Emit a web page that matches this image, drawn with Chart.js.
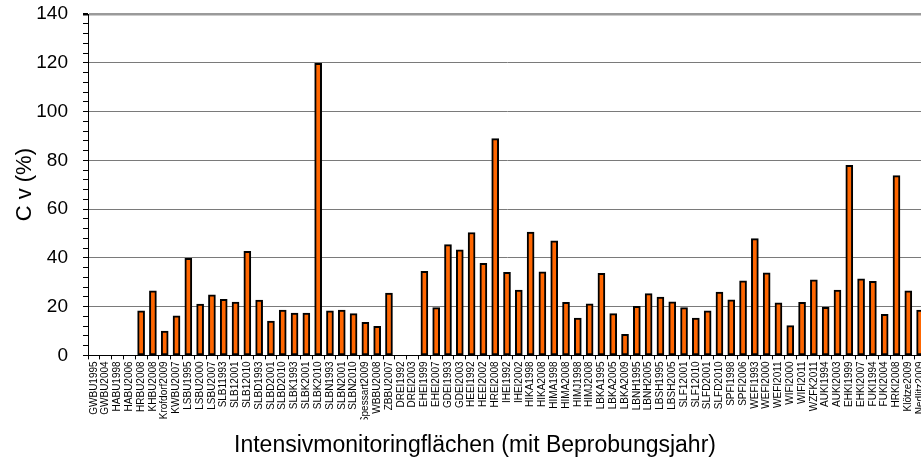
<!DOCTYPE html>
<html>
<head>
<meta charset="utf-8">
<script src="https://cdn.jsdelivr.net/npm/chart.js@4.4.1/dist/chart.umd.min.js"></script>
<style>
  html, body { margin: 0; padding: 0; background: #fff; overflow: hidden; }
  #wrap { width: 950px; height: 469px; }
</style>
</head>
<body>
<div id="wrap"><canvas id="cvChart"></canvas></div>
<script>
  const plots = [
    'GWBU1995','GWBU2004','HABU1998','HABU2006','HRBU2008','KHBU2008','Krofdorf2009','KWBU2007',
    'LSBU1995','LSBU2000','LSBU2007','SLB11993','SLB12001','SLB12010','SLBD1993','SLBD2001',
    'SLBD2010','SLBK1993','SLBK2001','SLBK2010','SLBN1993','SLBN2001','SLBN2010','Spessart2009',
    'WBBU2008','ZBBU2007','DREI1992','DREI2003','EHEI1999','EHEI2007','GDEI1993','GDEI2003',
    'HEEI1992','HEEI2002','HREI2008','IHEI1992','IHEI2002','HIKA1998','HIKA2008','HIMA1998',
    'HIMA2008','HIMJ1998','HIMJ2008','LBKA1995','LBKA2005','LBKA2009','LBNH1995','LBNH2005',
    'LBSH1995','LBSH2005','SLF12001','SLF12010','SLFD2001','SLFD2010','SPFI1998','SPFI2006',
    'WEFI1993','WEFI2000','WEFI2011','WIFI2000','WIFI2011','WZFK2011','AUKI1994','AUKI2003',
    'EHKI1999','EHKI2007','FUKI1994','FUKI2004','HRKI2008','Klötze2009','Nedlitz2009'
  ];

  // coefficient of variation per plot, % (null = not sampled)
  const cv = [
    null, null, null, null, 18.3, 26.5, 10.0, 16.2,
    39.8, 21.0, 24.8, 23.0, 21.9, 42.7, 22.7, 14.1,
    18.6, 17.4, 17.4, 119.8, 18.3, 18.6, 17.1, 13.6,
    11.9, 25.6, null, null, 34.5, 19.6, 45.4, 43.3,
    50.4, 37.8, 88.9, 34.1, 26.8, 50.6, 34.3, 47.0,
    21.8, 15.3, 21.1, 33.7, 17.1, 8.6, 20.1, 25.3,
    23.9, 22.0, 19.6, 15.3, 18.3, 26.0, 22.8, 30.6,
    47.9, 33.9, 21.6, 12.2, 21.8, 31.0, 19.7, 26.8,
    77.9, 31.4, 30.4, 16.8, 73.7, 26.5, 18.6
  ];

  const yMin = 0, yMax = 140, yMajor = 20, yMinor = 4;

  const font = 'Liberation Sans, Arial, sans-serif';

  new Chart(document.getElementById('cvChart'), {
    type: 'bar',
    data: {
      labels: plots,
      datasets: [{
        data: cv,
        backgroundColor: '#ff6600',
        borderColor: '#000',
        borderWidth: 2,
        borderSkipped: false,
        barThickness: 7
      }]
    },
    options: {
      responsive: true,
      maintainAspectRatio: false,
      animation: false,
      layout: { padding: { left: 24, right: 24, top: 14, bottom: 0 } },
      plugins: {
        legend: { display: false },
        tooltip: { enabled: false },
        title: {
          display: true,
          position: 'bottom',
          text: 'Intensivmonitoringflächen (mit Beprobungsjahr)',
          color: '#000',
          font: { family: font, size: 23, weight: 'normal' },
          padding: { top: 12, bottom: 10 }
        }
      },
      scales: {
        x: {
          grid: { display: true, drawOnChartArea: false, offset: true, tickLength: 4, tickColor: '#000' },
          border: { color: '#000', width: 1 },
          ticks: {
            autoSkip: false, minRotation: 90, maxRotation: 90, padding: 2,
            color: '#000', font: { family: font, size: 10 }
          },
          afterFit: (s) => { s.height = 64; }
        },
        y: {
          min: yMin, max: yMax,
          border: { color: '#000', width: 1 },
          grid: {
            tickLength: 5,
            tickColor: '#000',
            color: (c) => c.tick.value === yMax ? '#9a9a9a'
              : (c.tick.value % yMajor === 0 ? '#7a7a7a' : 'rgba(0,0,0,0)'),
            lineWidth: (c) => c.tick.value === yMax ? 2.5 : 1
          },
          ticks: {
            stepSize: yMinor, maxTicksLimit: 100, autoSkip: false, padding: 15,
            color: '#000', font: { family: font, size: 19 },
            callback: (v) => v % yMajor === 0 ? v : ''
          },
          title: {
            display: true, text: 'C v (%)', color: '#000',
            font: { family: font, size: 22 },
            padding: { top: -12, bottom: 0 }
          },
          // fixed axis width; let the top label overhang the plot
          afterFit: (s) => { s.width = 64; s.paddingTop = 0; s.paddingBottom = 0; }
        }
      }
    }
  });
</script>
</body>
</html>
